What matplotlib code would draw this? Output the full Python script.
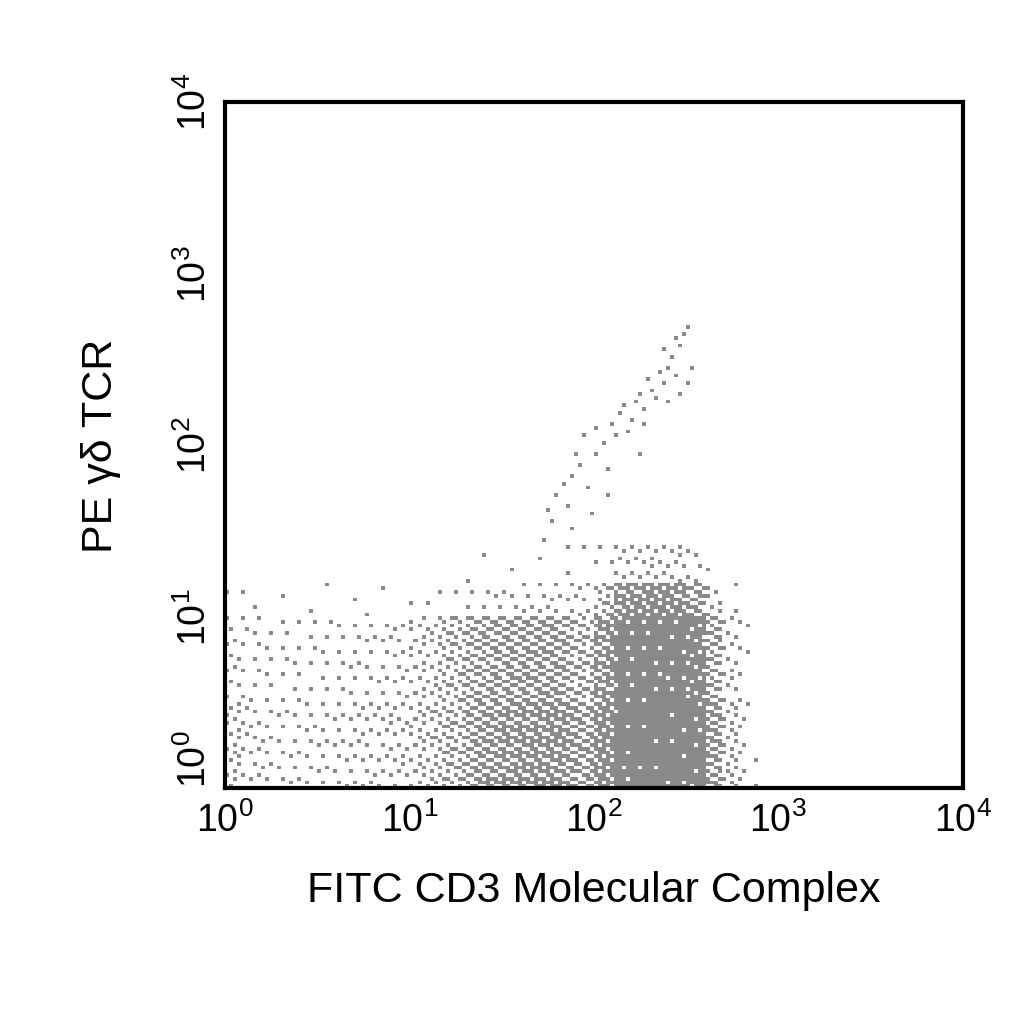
import numpy as np
import matplotlib
matplotlib.use("Agg")
import matplotlib.pyplot as plt
from matplotlib.colors import ListedColormap

plt.rcParams['font.family'] = ['Liberation Sans', 'DejaVu Sans']
plt.rcParams['mathtext.fontset'] = 'custom'
plt.rcParams['mathtext.rm'] = 'Liberation Sans'
plt.rcParams['mathtext.it'] = 'Liberation Sans'

# Column density profiles (log10 x bin starts, width 0.1 decade)
x_bins = [0.0,0.1,0.2,0.3,0.4,0.5,0.6,0.7,0.8,0.9,1.0,1.1,1.2,1.3,1.4,1.5,1.6,1.7,1.8,1.9,
          2.0,2.1,2.2,2.3,2.4,2.5,2.6,2.7,2.8,2.9]
dens_low = [0.20,0.13,0.11,0.10,0.10,0.10,0.11,0.12,0.13,0.15,0.22,0.28,0.35,0.50,0.58,0.62,0.66,0.68,0.62,0.50,
            0.75,0.95,0.97,0.97,0.97,0.93,0.55,0.25,0.05,0.0]
dens_mid = [0.12,0.08,0.07,0.07,0.07,0.07,0.08,0.09,0.10,0.12,0.18,0.24,0.30,0.42,0.48,0.50,0.52,0.52,0.45,0.38,
            0.65,0.92,0.94,0.94,0.93,0.85,0.45,0.15,0.02,0.0]
dens_high = [0.03,0.02,0.01,0.01,0.01,0.02,0.01,0.02,0.02,0.02,0.04,0.05,0.07,0.09,0.10,0.10,0.11,0.12,0.10,0.12,
             0.30,0.70,0.75,0.75,0.70,0.55,0.20,0.03,0.0,0.0]
dens_top = [0.0,0.0,0.0,0.0,0.0,0.0,0.0,0.0,0.0,0.0,0.0,0.01,0.01,0.02,0.02,0.02,0.02,0.03,0.03,0.03,
            0.05,0.12,0.15,0.18,0.15,0.10,0.02,0.0,0.0,0.0]
# y band limits (log10)
band_edges = [0.0, 0.5, 1.0, 1.2, 1.42]

# Sparse upper streak events (log10 x, log10 y)
streak_x = [1.72,1.75,1.78,1.80,1.83,1.85,1.88,1.90,1.92,1.95,1.97,2.00,2.02,2.05,2.07,2.10,2.12,2.15,
            2.17,2.20,2.22,2.25,2.27,2.30,2.32,2.35,2.37,2.40,2.42,2.44,2.46,2.38,2.33,2.28,2.18,2.08,1.98,1.87,2.24,2.41,
            2.48,2.51,2.47,2.53,2.50,2.45]
streak_y = [1.45,1.62,1.55,1.70,1.78,1.65,1.82,1.95,1.88,2.05,1.75,2.10,1.95,2.00,1.85,2.12,2.05,2.18,
            2.22,2.15,2.25,2.30,2.20,2.38,2.32,2.42,2.35,2.45,2.52,2.40,2.30,2.55,2.28,2.12,2.08,1.70,1.60,1.52,1.95,2.25,
            2.65,2.68,2.58,2.45,2.35,2.62]

n = 184
cell = 4.0 / n
grid = np.zeros((n, n))
bands = [dens_low, dens_mid, dens_high, dens_top]
for i in range(n):
    xc = (i + 0.5) * cell
    k = int(xc / 0.1)
    if k >= len(x_bins):
        continue
    for j in range(n):
        yc = (j + 0.5) * cell
        d = 0
        for b in range(4):
            if band_edges[b] <= yc < band_edges[b + 1]:
                d = bands[b][k]
        thr = (i * 0.7548776662 + j * 0.5698402910 + 0.37) % 1.0  # ordered dither threshold
        if d > thr:
            grid[j, i] = 1
for sx, sy in zip(streak_x, streak_y):
    grid[int(sy / cell), int(sx / cell)] = 1

fig = plt.figure(figsize=(10.24, 10.24), dpi=100)
ax = fig.add_axes([0.22, 0.23, 0.72, 0.67])
ax.imshow(grid, origin='lower', extent=[0, 4, 0, 4], cmap=ListedColormap(['white', '#8a8a8a']),
          interpolation='nearest', aspect='auto')
ax.set_xlim(0, 4); ax.set_ylim(0, 4)
ticks = [0, 1, 2, 3, 4]
labels = [r'$10^{%d}$' % t for t in ticks]
ax.set_xticks(ticks); ax.set_xticklabels(labels, fontsize=27)
ax.set_yticks(ticks); ax.set_yticklabels(labels, fontsize=27, rotation=90, va='center')
ax.tick_params(axis='x', length=0, pad=10)
ax.tick_params(axis='y', length=0, pad=8)
for lab in ax.get_yticklabels()[:1]:
    lab.set_va('bottom')
for s in ax.spines.values():
    s.set_linewidth(3)
ax.set_xlabel('FITC CD3 Molecular Complex', fontsize=31, labelpad=22)
ax.set_ylabel('PE γδ TCR', fontsize=31, labelpad=40)
fig.savefig('out.png', dpi=100)
